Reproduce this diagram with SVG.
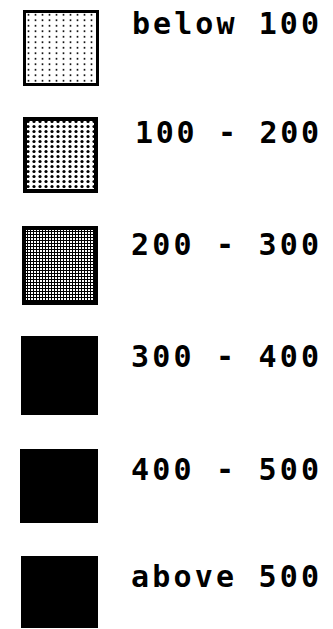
<svg xmlns="http://www.w3.org/2000/svg" width="333" height="629" viewBox="0 0 333 629">
<style>
.lbl{font-family:"DejaVu Sans Mono","Liberation Mono",monospace;font-weight:bold;font-size:30px;fill:#000}
.box{stroke:#000}
.solid{fill:#000}
</style>
<defs>
<pattern id="p1" x="25" y="12" width="7" height="5.5" patternUnits="userSpaceOnUse">
<rect width="7" height="5.5" fill="#fff"/>
<circle cx="3.5" cy="2.75" r="1" fill="#000"/>
</pattern>
<pattern id="p2" x="25" y="119" width="6" height="5" patternUnits="userSpaceOnUse">
<rect width="6" height="5" fill="#fff"/>
<circle cx="3" cy="2.5" r="1.6" fill="#000"/>
</pattern>
<pattern id="p3" x="24" y="228" width="3" height="3" patternUnits="userSpaceOnUse">
<rect width="3" height="3" fill="#000"/>
<rect x="1" y="1" width="2" height="2" fill="#fff"/>
</pattern>
</defs>
<rect width="333" height="629" fill="#fff"/>
<g id="item1">
<rect class="box" x="24.5" y="11.5" width="73" height="73" fill="url(#p1)" stroke-width="3"/>
<text class="lbl" x="132" y="34" textLength="187" lengthAdjust="spacing">below 100</text>
</g>
<g id="item2">
<rect class="box" x="25" y="119" width="71" height="72" fill="url(#p2)" stroke-width="4"/>
<text class="lbl" x="135" y="143" textLength="184" lengthAdjust="spacing">100 - 200</text>
</g>
<g id="item3">
<rect class="box" x="24" y="228" width="72" height="75" fill="url(#p3)" stroke-width="4"/>
<text class="lbl" x="131" y="255" textLength="188" lengthAdjust="spacing">200 - 300</text>
</g>
<g id="item4">
<rect class="solid" x="21" y="336" width="77" height="79"/>
<text class="lbl" x="131" y="367" textLength="188" lengthAdjust="spacing">300 - 400</text>
</g>
<g id="item5">
<rect class="solid" x="20" y="449" width="78" height="74"/>
<text class="lbl" x="131" y="480" textLength="188" lengthAdjust="spacing">400 - 500</text>
</g>
<g id="item6">
<rect class="solid" x="21" y="556" width="77" height="72"/>
<text class="lbl" x="131" y="587" textLength="188" lengthAdjust="spacing">above 500</text>
</g>
<g id="connectors"/>
</svg>
